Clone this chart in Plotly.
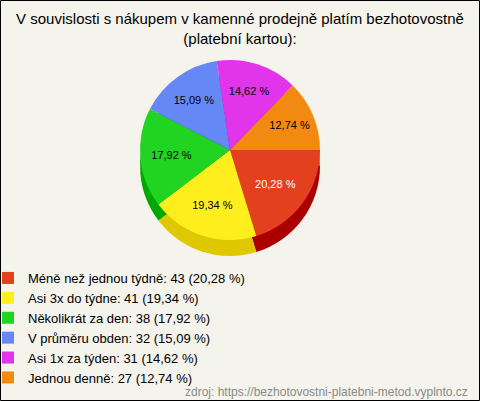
import plotly.graph_objects as go

# data
labels = ["Méně než jednou týdně", "Asi 3x do týdne", "Několikrát za den",
          "V průměru obden", "Asi 1x za týden", "Jednou denně"]
values = [43, 41, 38, 32, 31, 27]
colors = ["#E2401F", "#FFEE1E", "#22D422", "#6688F6", "#E234EA", "#F28A12"]
side_colors = ["#AA0000", "#E0C800", "#00A800", "#3355CC", "#AA10B0", "#C06000"]
text_colors = ["white", "black", "black", "black", "black", "black"]

total = sum(values)
pct = [f"{v / total * 100:.2f}".replace(".", ",") + " %" for v in values]
legend_labels = [f"{l}: {v} ({p})" for l, v, p in zip(labels, values, pct)]

W, H = 480, 401
cx, cy, r = 230, 150, 90
depth = 16

def dom(offset=0):
    return dict(x=[(cx - r) / W, (cx + r) / W],
                y=[1 - (cy + r + offset) / H, 1 - (cy - r + offset) / H])

fig = go.Figure()

# darker copy underneath, gives the pie some depth
fig.add_trace(go.Pie(
    labels=legend_labels, values=values, sort=False, direction="clockwise",
    rotation=90, domain=dom(depth), showlegend=False, textinfo="none",
    hoverinfo="skip", marker=dict(colors=side_colors, line=dict(width=0)),
))

fig.add_trace(go.Pie(
    labels=legend_labels, values=values, sort=False, direction="clockwise",
    rotation=90, domain=dom(), text=pct, textinfo="text",
    textposition="inside", insidetextorientation="horizontal",
    textfont=dict(size=11, color=text_colors, family="Liberation Sans, Arial"),
    marker=dict(colors=colors, line=dict(width=0)),
))

fig.update_layout(
    width=W, height=H,
    margin=dict(l=0, r=0, t=0, b=0, autoexpand=False),
    paper_bgcolor="#F4F3EC",
    font=dict(family="Liberation Sans, Arial", color="black"),
    title=dict(text="V souvislosti s nákupem v kamenné prodejně platím bezhotovostně<br>(platební kartou):",
               x=0.5, xanchor="center", y=1 - 24 / H, yanchor="top",
               font=dict(size=15, color="black")),
    legend=dict(x=-12 / W, xanchor="left", y=1 - 263 / H, yanchor="top",
                font=dict(size=13, color="black"), bgcolor="rgba(0,0,0,0)",
                itemwidth=30, traceorder="normal"),
    annotations=[dict(text="zdroj: https://bezhotovostni-platebni-metod.vyplnto.cz",
                      xref="paper", yref="paper", x=1 - 10 / W, y=1 - 392 / H,
                      xanchor="right", yanchor="middle", showarrow=False,
                      font=dict(size=12, color="#8A8A8A"))],
    shapes=[dict(type="rect", xref="paper", yref="paper",
                 x0=0.5 / W, x1=1 - 0.5 / W, y0=0.5 / H, y1=1 - 0.5 / H,
                 line=dict(color="black", width=1))],
)

fig.write_html("out.html", config={"displayModeBar": False},
               post_script="document.body.style.margin='0';")
